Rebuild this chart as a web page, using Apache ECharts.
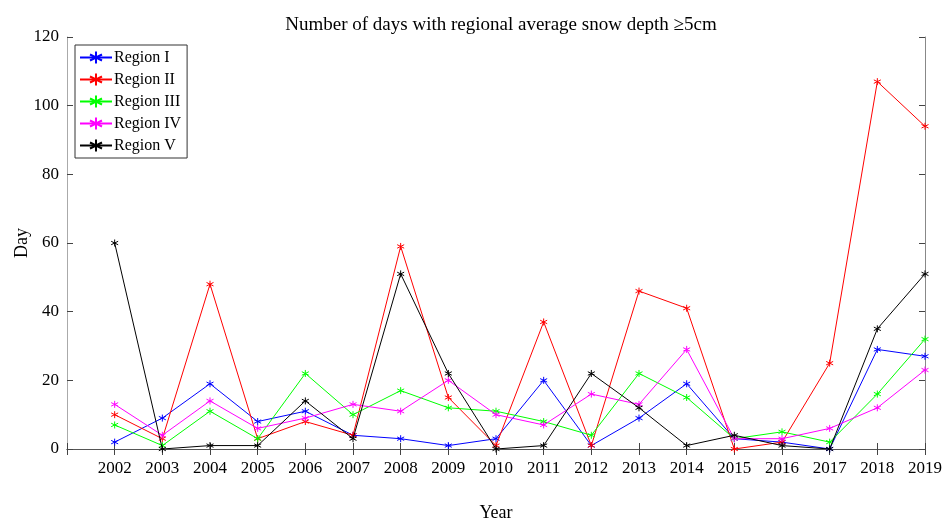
<!DOCTYPE html>
<html>
<head>
<meta charset="utf-8">
<script src="https://cdn.jsdelivr.net/npm/echarts@6/dist/echarts.min.js"></script>
<style>html,body{margin:0;padding:0;background:#fff}#c{width:944px;height:520px}</style>
</head>
<body>
<div id="c"></div>
<script>
const years = [2002,2003,2004,2005,2006,2007,2008,2009,2010,2011,2012,2013,2014,2015,2016,2017,2018,2019];
const regionI   = [2,9,19,8,11,4,3,1,3,20,1,9,19,3,2,0,29,27];
const regionII  = [10,3,48,3,8,4,59,15,1,37,1,46,41,0,2,25,107,94];
const regionIII = [7,1,11,3,22,10,17,12,11,8,4,22,15,3,5,2,16,32];
const regionIV  = [13,4,14,6,9,13,11,20,10,7,16,13,29,3,3,6,12,23];
const regionV   = [60,0,1,1,14,3,51,22,0,1,22,12,1,4,1,0,35,51];
const names = ['Region I','Region II','Region III','Region IV','Region V'];
const colors = ['#0000ff','#ff0000','#00ff00','#ff00ff','#000000'];
const allData = [regionI, regionII, regionIII, regionIV, regionV];

const font = '"Liberation Serif","Times New Roman",serif';
const star = 'path://M0,-5L0,5M-4.33,-2.5L4.33,2.5M-4.33,2.5L4.33,-2.5';

const series = allData.map((d, i) => ({
  name: names[i],
  type: 'line',
  data: years.map((y, k) => [y, d[k]]),
  symbol: star,
  symbolSize: 7,
  lineStyle: {color: colors[i], width: 1},
  itemStyle: {color: 'none', borderColor: colors[i], borderWidth: 1},
  emphasis: {disabled: true},
  animation: false,
  z: 2 + i
}));

const chart = echarts.init(document.getElementById('c'));
chart.setOption({
  backgroundColor: '#fff',
  animation: false,
  title: {
    text: 'Number of days with regional average snow depth \u22655cm',
    left: 496, textAlign: 'center', top: 11,
    textStyle: {fontFamily: font, fontSize: 19, fontWeight: 'normal', color: '#000'}
  },
  legend: {
    orient: 'vertical', left: 75, top: 45,
    backgroundColor: '#fff', borderColor: '#333', borderWidth: 1,
    padding: [4, 6, 4, 4], itemGap: 5, itemWidth: 32, itemHeight: 15,
    textStyle: {fontFamily: font, fontSize: 16, color: '#000', padding: [0,0,0,-3]},
    data: names
  },
  grid: {left: 67, right: 19, top: 37, bottom: 71, containLabel: false, outerBoundsMode: 'none'},
  xAxis: [{
    type: 'value', min: 2001, max: 2019, interval: 1,
    name: 'Year', nameLocation: 'middle', nameGap: 55, nameMoveOverlap: false,
    nameTextStyle: {fontFamily: font, fontSize: 18, color: '#000'},
    axisLine: {lineStyle: {color: '#666', width: 1}},
    axisTick: {inside: true, length: 6, lineStyle: {color: '#444'}},
    axisLabel: {fontFamily: font, fontSize: 17, color: '#000', margin: 11,
      formatter: v => v === 2001 ? '' : String(v)},
    splitLine: {show: false}
  }, {
    type: 'value', min: 2001, max: 2019, interval: 1, position: 'top',
    axisLine: {lineStyle: {color: '#555', width: 1}},
    axisTick: {inside: true, length: 6, lineStyle: {color: '#444'}},
    axisLabel: {show: false}, splitLine: {show: false}
  }],
  yAxis: [{
    type: 'value', min: 0, max: 120, interval: 20,
    name: 'Day', nameLocation: 'middle', nameGap: 36, nameMoveOverlap: false,
    nameTextStyle: {fontFamily: font, fontSize: 18, color: '#000'},
    axisLine: {show: true, lineStyle: {color: '#aaa', width: 1}},
    axisTick: {show: true, inside: true, length: 6, lineStyle: {color: '#444'}},
    axisLabel: {fontFamily: font, fontSize: 17, color: '#000', margin: 8},
    splitLine: {show: false}
  }, {
    type: 'value', min: 0, max: 120, interval: 20, position: 'right',
    axisLine: {show: true, lineStyle: {color: '#888', width: 1}},
    axisTick: {show: true, inside: true, length: 6, lineStyle: {color: '#444'}},
    axisLabel: {show: false}, splitLine: {show: false}
  }],
  series: series
});
</script>
</body>
</html>
